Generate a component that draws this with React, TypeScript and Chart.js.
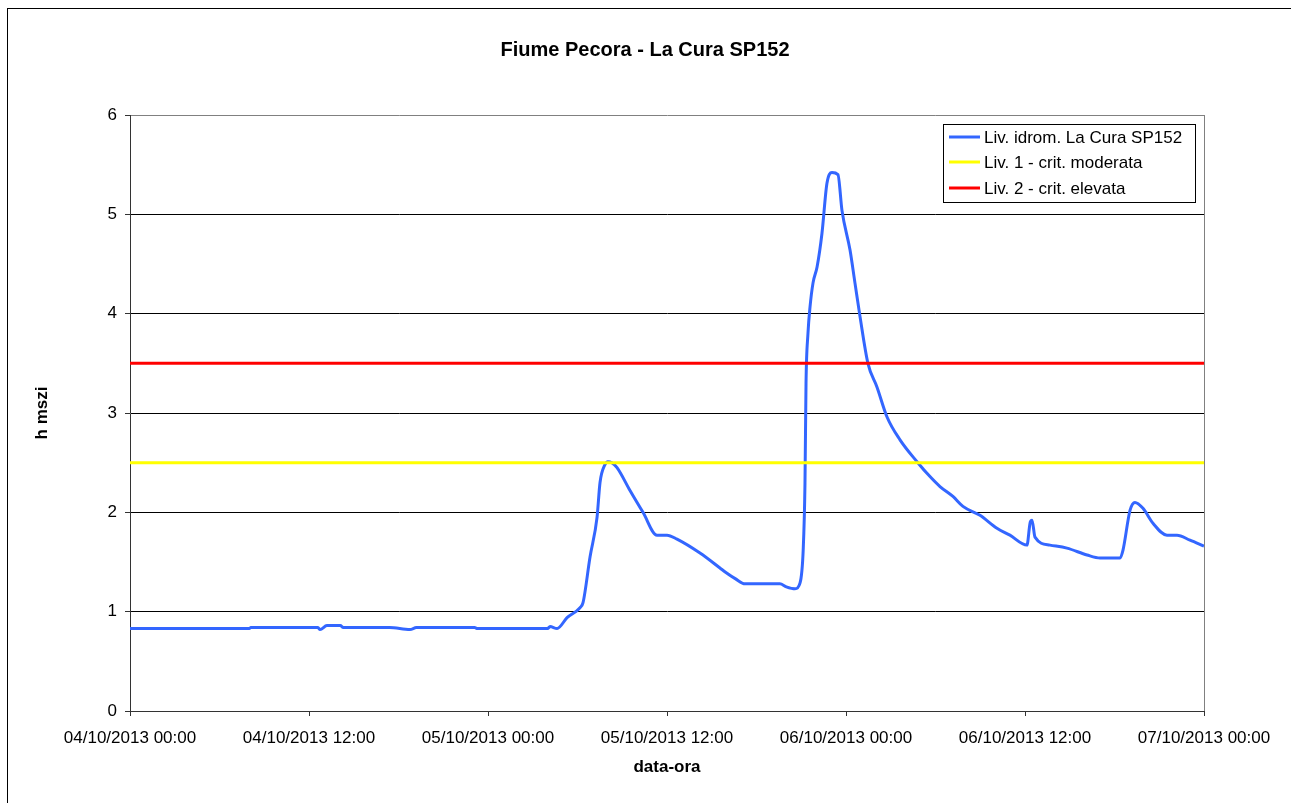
import React, { useEffect, useRef } from "react";
import { Chart, registerables } from "chart.js";

Chart.register(...registerables);

const chartTitle = "Fiume Pecora - La Cura SP152";
const xAxisTitle = "data-ora";
const yAxisTitle = "h mszi";

const xTickLabels = [
  "04/10/2013 00:00",
  "04/10/2013 12:00",
  "05/10/2013 00:00",
  "05/10/2013 12:00",
  "06/10/2013 00:00",
  "06/10/2013 12:00",
  "07/10/2013 00:00",
];

// hours since 04/10/2013 00:00
const hours = [
  0, 8.0, 8.1, 12.6, 12.74, 13.2, 14.1, 14.3, 17.4, 18.77, 19.2, 23.1, 23.3, 28.0,
  28.16, 28.63, 29.3, 30.17, 30.37, 30.84, 31.31, 31.51, 31.84, 32.04, 32.3, 32.65, 33.52,
  34.39, 35.33, 36.0, 36.67, 38.21, 39.55, 39.9, 40.6, 41.23, 43.57, 44.0, 44.58,
  44.92, 45.13, 45.25, 45.32, 45.45, 45.59, 45.79, 46.06, 46.39, 46.72, 47.06, 47.46,
  47.73, 48.27, 48.6, 48.94, 49.47, 50.08, 50.75, 51.62, 52.76, 53.63, 54.3, 55.17,
  55.84, 56.98, 58.12, 58.99, 60.13, 60.35, 60.47, 60.67, 61.67, 62.81, 64.16, 65.03,
  66.37, 66.57, 67.04, 67.37, 67.91, 68.58, 69.52, 70.19, 71.06, 72,
];

const levels = [
  0.83, 0.83, 0.84, 0.84, 0.82, 0.86, 0.86, 0.84, 0.84, 0.82, 0.84, 0.84, 0.83, 0.83,
  0.85, 0.83, 0.94, 1.04, 1.09, 1.55, 1.95, 2.3, 2.48, 2.51, 2.5, 2.45, 2.22,
  2.0, 1.77, 1.77, 1.73, 1.59, 1.44, 1.4, 1.33, 1.28, 1.28, 1.25, 1.23,
  1.29, 1.62, 2.29, 3.3, 3.8, 4.07, 4.31, 4.47, 4.81, 5.31, 5.42, 5.4,
  5.04, 4.64, 4.31, 3.97, 3.5, 3.26, 2.96, 2.73, 2.51, 2.36, 2.26, 2.16,
  2.06, 1.97, 1.84, 1.77, 1.67, 1.9, 1.92, 1.75, 1.67, 1.64, 1.57, 1.54,
  1.54, 1.62, 2.02, 2.1, 2.04, 1.89, 1.77, 1.77, 1.72, 1.66,
];

const level1 = 2.5;
const level2 = 3.5;

const seriesNames = [
  "Liv. idrom. La Cura SP152",
  "Liv. 1 - crit. moderata",
  "Liv. 2 - crit. elevata",
];
const seriesColors = ["#3366FF", "#FFFF00", "#FF0000"];

const FONT = "'Liberation Sans', Arial, sans-serif";

export default function App() {
  const canvasRef = useRef<HTMLCanvasElement | null>(null);

  useEffect(() => {
    const canvas = canvasRef.current;
    if (!canvas) return;

    const decor = {
      id: "decor",
      beforeDraw(chart: any) {
        const ctx = chart.ctx;
        ctx.save();
        ctx.fillStyle = "#ffffff";
        ctx.fillRect(0, 0, chart.width, chart.height);
        ctx.restore();
      },
      afterDraw(chart: any) {
        const ctx = chart.ctx;
        const a = chart.chartArea;
        ctx.save();
        ctx.strokeStyle = "#808080";
        ctx.lineWidth = 1;
        ctx.beginPath();
        ctx.moveTo(Math.round(a.right) + 0.5, a.top);
        ctx.lineTo(Math.round(a.right) + 0.5, a.bottom);
        ctx.stroke();

        ctx.strokeStyle = "#000";
        ctx.strokeRect(7.5, 8.5, 1400, 1000);

        ctx.fillStyle = "#000";
        ctx.textAlign = "center";
        ctx.textBaseline = "middle";
        ctx.font = `bold 20px ${FONT}`;
        ctx.fillText(chartTitle, 645, 50);

        ctx.font = `bold 17px ${FONT}`;
        ctx.fillText(xAxisTitle, (a.left + a.right) / 2, 767);
        ctx.save();
        ctx.translate(42, (a.top + a.bottom) / 2);
        ctx.rotate(-Math.PI / 2);
        ctx.fillText(yAxisTitle, 0, 0);
        ctx.restore();

        ctx.strokeStyle = "#000";
        ctx.lineWidth = 1;
        ctx.strokeRect(943.5, 124.5, 252, 78);
        const rows = [137, 162, 188];
        ctx.font = `17px ${FONT}`;
        ctx.textAlign = "left";
        for (let i = 0; i < 3; i++) {
          ctx.strokeStyle = seriesColors[i];
          ctx.lineWidth = 3;
          ctx.beginPath();
          ctx.moveTo(949, rows[i]);
          ctx.lineTo(980, rows[i]);
          ctx.stroke();
          ctx.fillStyle = "#000";
          ctx.fillText(seriesNames[i], 984, rows[i] + 1);
        }
        ctx.restore();
      },
    };

    const chart = new Chart(canvas, {
      type: "line",
      data: {
        datasets: [
          {
            label: seriesNames[0],
            data: hours.map((h, i) => ({ x: h, y: levels[i] })),
            borderColor: seriesColors[0],
            borderWidth: 3,
            pointRadius: 0,
            cubicInterpolationMode: "monotone",
            order: 3,
          },
          {
            label: seriesNames[1],
            data: [
              { x: 0, y: level1 },
              { x: 72, y: level1 },
            ],
            borderColor: seriesColors[1],
            borderWidth: 3,
            pointRadius: 0,
            order: 2,
          },
          {
            label: seriesNames[2],
            data: [
              { x: 0, y: level2 },
              { x: 72, y: level2 },
            ],
            borderColor: seriesColors[2],
            borderWidth: 3,
            pointRadius: 0,
            order: 1,
          },
        ],
      },
      options: {
        responsive: false,
        animation: false,
        devicePixelRatio: 1,
        layout: { padding: { left: 0, top: 115, right: 87, bottom: 0 } },
        plugins: {
          legend: { display: false },
          title: { display: false },
          tooltip: { enabled: false },
        },
        scales: {
          x: {
            type: "linear",
            min: 0,
            max: 72,
            afterFit: (s: any) => {
              s.height = 92;
            },
            ticks: {
              stepSize: 12,
              autoSkip: false,
              maxRotation: 0,
              padding: 12,
              color: "#000",
              font: { family: FONT, size: 17 },
              callback: (v: any) => xTickLabels[Math.round(Number(v) / 12)] ?? "",
            },
            grid: {
              display: true,
              drawOnChartArea: false,
              drawTicks: true,
              tickLength: 5,
              tickColor: "#333",
            },
            border: { display: true, color: "#333", width: 1 },
          },
          y: {
            type: "linear",
            min: 0,
            max: 6,
            afterFit: (s: any) => {
              s.width = 130;
            },
            ticks: {
              stepSize: 1,
              padding: 8,
              color: "#000",
              font: { family: FONT, size: 17 },
            },
            grid: {
              color: (c: any) =>
                c.tick && c.tick.value === 6 ? "#808080" : c.tick && c.tick.value === 0 ? "#333" : "#000",
              lineWidth: 1,
              drawTicks: true,
              tickLength: 5,
              tickColor: "#333",
            },
            border: { display: true, color: "#333", width: 1 },
          },
        },
      },
      plugins: [decor],
    } as any);

    return () => chart.destroy();
  }, []);

  return (
    <div style={{ position: "absolute", left: 0, top: 0, width: 1291, height: 803 }}>
      <canvas ref={canvasRef} width={1291} height={803} style={{ width: 1291, height: 803 }} />
    </div>
  );
}
